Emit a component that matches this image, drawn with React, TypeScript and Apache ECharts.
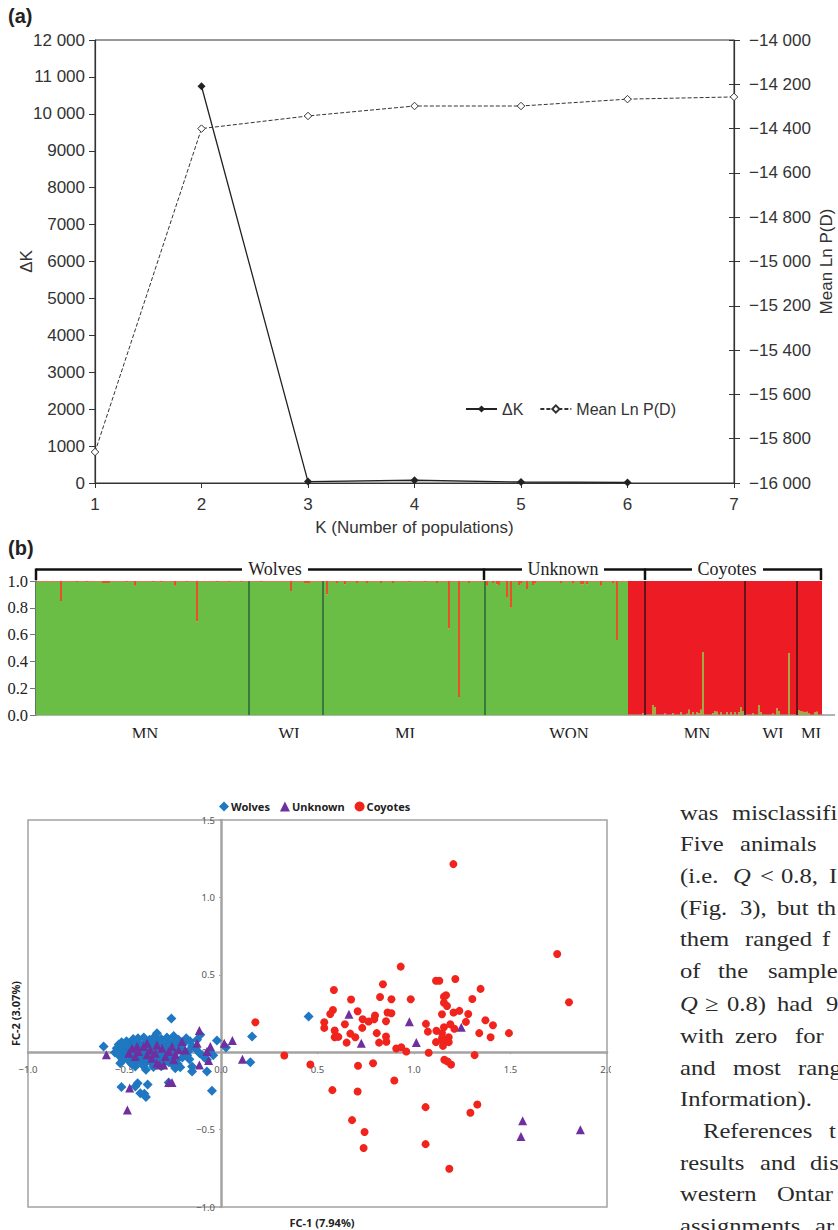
import React, { useEffect, useRef } from "react";
import * as echarts from "echarts";

// ---------- Panel (a) ----------
const kValues = [1, 2, 3, 4, 5, 6, 7];
const deltaK: (number | null)[] = [null, 10746, 38, 75, 27, 15, null];
const meanLnPD = [-15860, -14400, -14343, -14298, -14298, -14267, -14257];

// ---------- Panel (b): share of the green cluster per individual ----------
const individualCount = 393;
const firstCoyoteIndex = 296;
const wolfLikeBaseline = 0.995;
const coyoteLikeBaseline = 0.004;
const greenDips: [number, number][] = [
  [12, 0.85], [33, 0.985], [34, 0.985], [35, 0.985], [36, 0.985], [49, 0.965], [69, 0.965], [80, 0.7],
  [20, 0.992], [25, 0.99], [45, 0.99], [58, 0.99], [62, 0.988], [75, 0.99], [90, 0.99], [96, 0.988], [102, 0.99],
  [112, 0.99], [127, 0.925], [134, 0.985], [135, 0.985], [136, 0.98], [145, 0.9], [150, 0.985], [154, 0.975],
  [160, 0.985], [165, 0.985], [172, 0.985], [178, 0.985], [186, 0.988], [194, 0.988], [200, 0.985],
  [206, 0.645], [211, 0.135], [216, 0.985], [225, 0.965], [228, 0.985], [230, 0.975], [231, 0.97], [235, 0.875],
  [237, 0.8], [241, 0.97], [242, 0.98], [245, 0.94], [248, 0.97], [249, 0.98], [262, 0.985], [268, 0.98],
  [272, 0.975], [273, 0.975], [275, 0.975], [282, 0.965], [288, 0.98], [290, 0.56],
];
const greenSpikes: [number, number][] = [
  [303, 0.015], [308, 0.075], [309, 0.06], [314, 0.012], [318, 0.015], [322, 0.02], [326, 0.02], [330, 0.02],
  [325, 0.01], [331, 0.015], [326, 0.04], [328, 0.02], [333, 0.47], [332, 0.04],
  [338, 0.015], [339, 0.028], [340, 0.025], [342, 0.018], [345, 0.02], [347, 0.018], [349, 0.022], [351, 0.02],
  [352, 0.06], [353, 0.03], [358, 0.015], [361, 0.075], [362, 0.02], [368, 0.012], [370, 0.05], [371, 0.03],
  [376, 0.46], [381, 0.035], [382, 0.03], [383, 0.025], [384, 0.02], [385, 0.025], [386, 0.012],
  [390, 0.025], [389, 0.02],
];
const populationTicks: [number, string][] = [
  [54, "MN"], [126, "WI"], [184, "MI"], [266, "WON"], [330, "MN"], [368, "WI"], [387, "MI"],
];
const populationBreaks: [number, string][] = [
  [106, "#2f6a3c"], [143, "#2f6a3c"], [224, "#2f6a3c"], [304, "#441416"], [354, "#441416"], [380, "#441416"],
];

// ---------- Panel (c) ----------
const wolves: [number, number][] = [
  [-0.257, 0.217], [-0.608, 0.037], [0.161, 0.101], [0.152, -0.065], [-0.021, 0.075], [0.026, 0.03], [0.454, 0.23],
  [-0.047, -0.249], [-0.073, -0.125], [-0.516, -0.224], [-0.444, -0.222], [-0.432, -0.2], [-0.38, -0.209],
  [-0.418, -0.265], [-0.397, -0.269], [-0.389, -0.29], [-0.271, -0.196], [-0.15, -0.125], [-0.15, -0.092],
  [-0.111, -0.006], [-0.164, -0.045], [-0.073, -0.049], [-0.124, 0.08], [-0.107, 0.112], [-0.522, -0.071],
  [-0.389, -0.114], [-0.444, -0.092], [-0.237, -0.103], [-0.211, -0.097], [-0.332, 0.123],
  [-0.53, 0.05], [-0.515, 0.065], [-0.49, 0.07], [-0.455, 0.085], [-0.43, 0.09], [-0.4, 0.095], [-0.37, 0.08],
  [-0.345, 0.1], [-0.31, 0.085], [-0.28, 0.095], [-0.245, 0.105], [-0.22, 0.08], [-0.18, 0.09], [-0.16, 0.07],
  [-0.54, 0.025], [-0.51, 0.035], [-0.48, 0.05], [-0.45, 0.06], [-0.42, 0.055], [-0.39, 0.06], [-0.35, 0.055],
  [-0.32, 0.06], [-0.29, 0.05], [-0.26, 0.06], [-0.23, 0.05], [-0.195, 0.055], [-0.15, 0.04],
  [-0.55, -0.002], [-0.52, 0.005], [-0.495, 0.012], [-0.46, 0.0], [-0.43, 0.015], [-0.4, 0.005], [-0.36, 0.01],
  [-0.33, 0.02], [-0.3, 0.008], [-0.265, 0.018], [-0.235, 0.005], [-0.2, 0.012], [-0.17, 0.005], [-0.13, 0.02],
  [-0.53, -0.02], [-0.5, -0.03], [-0.47, -0.025], [-0.44, -0.04], [-0.41, -0.03], [-0.38, -0.045], [-0.35, -0.03],
  [-0.32, -0.05], [-0.29, -0.04], [-0.26, -0.03], [-0.23, -0.05], [-0.2, -0.035], [-0.175, -0.02],
  [-0.51, -0.05], [-0.475, -0.06], [-0.445, -0.065], [-0.36, -0.07], [-0.335, -0.08], [-0.3, -0.075], [-0.27, -0.065],
  [-0.25, -0.08], [-0.225, -0.075], [-0.42, -0.06], [-0.39, -0.065], [-0.09, -0.03], [-0.06, 0.01], [-0.04, -0.02],
  [-0.5, 0.045], [-0.47, 0.03], [-0.44, 0.075], [-0.41, 0.04], [-0.375, 0.035], [-0.34, 0.075], [-0.3, 0.07], [-0.27, 0.035],
  [-0.24, 0.075], [-0.21, 0.03], [-0.48, -0.01], [-0.445, -0.015], [-0.38, -0.015], [-0.34, -0.01], [-0.28, -0.015],
  [-0.245, -0.02], [-0.315, -0.02], [-0.4, -0.09], [-0.35, -0.095], [-0.31, -0.09], [-0.46, -0.08],
];
const unknown: [number, number][] = [
  [0.663, 0.245], [0.976, 0.196], [1.245, 0.161], [0.727, 0.058], [1.012, 0.062], [1.563, -0.443], [1.554, -0.544],
  [1.862, -0.501], [-0.594, -0.017], [-0.473, -0.232], [-0.485, -0.374], [-0.271, -0.196], [-0.254, -0.196],
  [-0.112, 0.14], [-0.124, 0.058], [0.017, 0.058], [0.059, 0.075], [0.111, -0.045], [-0.112, -0.082], [-0.064, -0.054],
  [-0.055, 0.037], [-0.073, 0.004], [-0.478, -0.006], [-0.461, 0.026], [-0.444, -0.028], [-0.427, 0.004],
  [-0.401, 0.037], [-0.383, -0.017], [-0.366, 0.015], [-0.358, -0.039], [-0.34, -0.006], [-0.332, -0.071],
  [-0.318, -0.082], [-0.297, -0.082], [-0.306, 0.026], [-0.288, -0.028], [-0.271, 0.004], [-0.254, 0.037],
  [-0.237, -0.017], [-0.219, 0.015], [-0.202, 0.069], [-0.185, 0.015], [-0.245, -0.049], [-0.383, 0.058],
  [-0.435, 0.037], [-0.332, 0.047],
];
const coyotes: [number, number][] = [
  [1.204, 1.215], [1.742, 0.634], [1.803, 0.323], [0.931, 0.553], [0.839, 0.439], [0.585, 0.402], [1.114, 0.462],
  [1.131, 0.462], [1.214, 0.473], [1.345, 0.409], [0.674, 0.34], [0.824, 0.357], [0.883, 0.342], [0.983, 0.342],
  [1.155, 0.359], [1.166, 0.368], [1.155, 0.32], [1.171, 0.299], [1.302, 0.344], [0.58, 0.273], [0.566, 0.247],
  [0.708, 0.265], [0.798, 0.237], [0.734, 0.213], [0.765, 0.198], [0.794, 0.213], [0.855, 0.2], [0.863, 0.256],
  [0.883, 0.252], [1.145, 0.245], [1.205, 0.256], [1.235, 0.267], [1.281, 0.247], [1.269, 0.196], [1.37, 0.206],
  [1.409, 0.174], [0.535, 0.194], [0.535, 0.157], [0.642, 0.181], [0.732, 0.157], [0.589, 0.14], [0.67, 0.12],
  [0.696, 0.097], [0.589, 0.097], [0.608, 0.099], [0.651, 0.062], [0.807, 0.123], [0.819, 0.062], [0.855, 0.101],
  [0.857, 0.067], [1.062, 0.183], [1.072, 0.133], [1.116, 0.138], [1.155, 0.161], [1.188, 0.181], [1.209, 0.151],
  [1.145, 0.123], [1.145, 0.09], [1.18, 0.097], [1.114, 0.065], [1.15, 0.069], [1.18, 0.065], [1.15, 0.041],
  [1.338, 0.123], [1.397, 0.097], [1.492, 0.123], [0.908, 0.024], [0.934, 0.032], [0.96, 0.004], [1.076, -0.004],
  [1.314, -0.019], [1.157, -0.049], [1.174, -0.06], [1.192, -0.08], [0.463, -0.08], [0.71, -0.088], [0.788, -0.071],
  [0.898, -0.183], [0.577, -0.245], [0.708, -0.254], [1.06, -0.355], [1.328, -0.338], [1.292, -0.391], [0.679, -0.439],
  [0.744, -0.516], [0.739, -0.619], [1.06, -0.594], [1.183, -0.753], [0.178, 0.194], [0.328, -0.021],
];

// ---------- Body text beside panel (c) ----------
const bodyWords: [string, number, number, boolean?][] = [
  ["was", 680, 0], ["misclassifi", 732, 0],
  ["Five", 680, 1], ["animals", 740, 1],
  ["(i.e.", 680, 2], ["Q", 733, 2, true], ["<", 760, 2], ["0.8,", 781, 2], ["I", 829, 2],
  ["(Fig.", 680, 3], ["3),", 740, 3], ["but", 777, 3], ["th", 817, 3],
  ["them", 680, 4], ["ranged", 745, 4], ["f", 822, 4],
  ["of", 680, 5], ["the", 718, 5], ["sample", 768, 5],
  ["Q", 680, 6, true], ["\u2265", 705, 6], ["0.8)", 727, 6], ["had", 777, 6], ["9", 826, 6],
  ["with", 680, 7], ["zero", 735, 7], ["for", 795, 7],
  ["and", 680, 8], ["most", 733, 8], ["rang", 798, 8],
  ["Information).", 680, 9],
  ["References", 703, 10], ["t", 829, 10],
  ["results", 680, 11], ["and", 760, 11], ["dis", 810, 11],
  ["western", 680, 12], ["Ontar", 777, 12],
  ["assignments", 680, 13], ["ar", 815, 13],
];
const bodyLineY = [812, 843, 875, 907, 938, 970, 1003, 1035, 1067, 1098, 1130, 1162, 1193, 1225];

const bracketSegments: [number, number][] = [[36, 242], [308, 484], [484, 522], [604, 645], [645, 692], [763, 822]];
const bracketDrops = [36, 484, 645, 821];
const bracketLabels: [string, number][] = [["Wolves", 275], ["Unknown", 563], ["Coyotes", 727]];

const SANS = '"Liberation Sans", Arial, sans-serif';
const SERIF = '"Liberation Serif", "Times New Roman", serif';
const NOTO = '"Noto Sans", sans-serif';

const groupThousands = (v: number) => {
  const a = Math.abs(v);
  const s = a >= 10000 ? `${Math.floor(a / 1000)} ${String(a % 1000).padStart(3, "0")}` : String(a);
  return v < 0 ? `\u2212${s}` : s;
};
const groupAll = (v: number) => {
  const a = Math.abs(v);
  return `\u2212${Math.floor(a / 1000)} ${String(a % 1000).padStart(3, "0")}`;
};
const fcLabel = (v: number) => (v < 0 ? `\u2212${Math.abs(v).toFixed(1)}` : v.toFixed(1));

export default function App() {
  const ref = useRef<HTMLDivElement>(null);
  useEffect(() => {
    document.body.style.margin = "0";
    document.body.style.overflow = "hidden";
    const chart = echarts.init(ref.current!, undefined, { renderer: "svg" });

    const green: number[] = [];
    for (let i = 0; i < individualCount; i++) green.push(i < firstCoyoteIndex ? wolfLikeBaseline : coyoteLikeBaseline);
    greenDips.forEach(([i, v]) => (green[i] = v));
    greenSpikes.forEach(([i, v]) => (green[i] = Math.max(green[i], v)));
    const red = green.map((v) => +(1 - v).toFixed(3));
    const categories = green.map((_, i) => String(i + 1));
    const tickMap = new Map(populationTicks);

    const graphic: any[] = [
      { type: "text", x: 8, y: 16, z: 50, style: { text: "(a)", font: `bold 20px ${SANS}`, fill: "#222", textVerticalAlign: "middle" } },
      { type: "text", x: 8, y: 548, z: 50, style: { text: "(b)", font: `bold 20px ${SANS}`, fill: "#222", textVerticalAlign: "middle" } },
      { type: "line", z: 50, shape: { x1: 822, y1: 715, x2: 835, y2: 715 }, style: { stroke: "#999", lineWidth: 1.5 } },
      { type: "rect", z: 60, shape: { x: 0, y: 738, width: 838, height: 30 }, style: { fill: "#fff" } },
      { type: "rect", z: 60, shape: { x: 611, y: 1060, width: 30, height: 22 }, style: { fill: "#fff" } },
    ];
    bracketSegments.forEach(([a, b]) =>
      graphic.push({ type: "line", z: 50, shape: { x1: a, y1: 569.5, x2: b, y2: 569.5 }, style: { stroke: "#111", lineWidth: 2.5 } })
    );
    bracketDrops.forEach((x) =>
      graphic.push({ type: "line", z: 50, shape: { x1: x, y1: 568.5, x2: x, y2: 580 }, style: { stroke: "#111", lineWidth: 2.5 } })
    );
    bracketLabels.forEach(([t, x]) =>
      graphic.push({ type: "text", x, y: 569, z: 50, style: { text: t, font: `18px ${SERIF}`, fill: "#222", textAlign: "center", textVerticalAlign: "middle" } })
    );
    bodyWords.forEach(([t, x, line, italic]) =>
      graphic.push({
        type: "text", x, y: bodyLineY[line], z: 50, scaleX: 1.12,
        style: { text: t, font: `${italic ? "italic " : ""}22px ${SERIF}`, fill: "#2a2a2a", textVerticalAlign: "middle" },
      })
    );

    const axisA = { color: "#333", fontFamily: SANS, fontSize: 17 };
    const fcAxis = (extra: any) => ({
      type: "value",
      axisLine: { show: true, onZero: false, lineStyle: { color: "#a3a3a3", width: 2.5 } },
      axisTick: { show: true, length: 2, lineStyle: { color: "#a3a3a3" } },
      splitLine: { show: false },
      nameLocation: "middle",
      nameMoveOverlap: false,
      nameTextStyle: { color: "#222", fontFamily: NOTO, fontWeight: "bold", fontSize: 11 },
      ...extra,
    });

    chart.setOption({
      animation: false,
      graphic,
      legend: [
        {
          data: ["\u0394K", "Mean Ln P(D)"], left: 465, top: 401, padding: 0, itemWidth: 31, itemHeight: 9, itemGap: 16,
          textStyle: { ...axisA, fontSize: 16 },
        },
        {
          data: ["Wolves", "Unknown", "Coyotes"], left: 219, top: 801, padding: 0, itemWidth: 10, itemHeight: 10, itemGap: 10,
          textStyle: { color: "#222", fontFamily: NOTO, fontWeight: "bold", fontSize: 11, padding: [0, 0, 0, -3] },
        },
      ],
      grid: [
        { left: 95, right: 104, top: 40, bottom: 747, show: true, borderColor: "#333", borderWidth: 1, outerBoundsMode: "none" },
        { left: 36, right: 16, top: 581, bottom: 515, outerBoundsMode: "none" },
        { left: 28, right: 231, top: 820, bottom: 23, show: true, borderColor: "#a3a3a3", borderWidth: 1.5, outerBoundsMode: "none" },
      ],
      xAxis: [
        {
          gridIndex: 0, type: "value", min: 1, max: 7, interval: 1,
          axisLine: { show: true, onZero: false, lineStyle: { color: "#333", width: 1.2 } },
          axisTick: { show: true, length: 5, lineStyle: { color: "#333" } },
          splitLine: { show: false },
          axisLabel: { ...axisA, margin: 13 },
          name: "K (Number of populations)", nameLocation: "middle", nameGap: 36, nameTextStyle: { ...axisA },
        },
        {
          gridIndex: 1, type: "category", data: categories, boundaryGap: true,
          axisLine: { lineStyle: { color: "#999", width: 1.5 } },
          axisTick: { length: 5, alignWithLabel: true, interval: (i: number) => tickMap.has(i), lineStyle: { color: "#999" } },
          axisLabel: {
            interval: (i: number) => tickMap.has(i),
            formatter: (_: string, i: number) => tickMap.get(i) ?? "",
            color: "#222", fontFamily: SERIF, fontSize: 16.5, margin: 10,
          },
        },
        fcAxis({
          gridIndex: 2, min: -1, max: 2, interval: 0.5, position: "bottom", offset: -154.8,
          name: "FC-1 (7.94%)", nameGap: 165, nameTextStyle: { color: "#222", fontFamily: NOTO, fontWeight: "bold", fontSize: 11, padding: [0, 0, 0, 9] },
          axisLabel: { color: "#555", fontFamily: NOTO, fontSize: 9.5, formatter: fcLabel, margin: 12 },
        }),
      ],
      yAxis: [
        {
          gridIndex: 0, type: "value", min: 0, max: 12000, interval: 1000, position: "left",
          axisLine: { show: true, lineStyle: { color: "#333", width: 1.2 } },
          axisTick: { show: true, length: 6, lineStyle: { color: "#333" } },
          splitLine: { show: false },
          axisLabel: { ...axisA, margin: 10, formatter: groupThousands },
          name: "\u0394K", nameLocation: "middle", nameGap: 60, nameMoveOverlap: false, nameTextStyle: { ...axisA },
        },
        {
          gridIndex: 0, type: "value", min: -16000, max: -14000, interval: 200, position: "right",
          axisLine: { show: true, lineStyle: { color: "#333", width: 1.2 } },
          axisTick: { show: true, length: 6, lineStyle: { color: "#333" } },
          splitLine: { show: false },
          axisLabel: { ...axisA, margin: 15, formatter: groupAll },
          name: "Mean Ln P(D)", nameLocation: "middle", nameRotate: 90, nameGap: 84, nameMoveOverlap: false,
          nameTextStyle: { ...axisA },
        },
        {
          gridIndex: 0, type: "value", min: -16000, max: -14000, interval: 200, position: "right",
          axisLine: { show: false },
          axisTick: { show: true, inside: true, length: 5, lineStyle: { color: "#333" } },
          splitLine: { show: false }, axisLabel: { show: false },
        },
        {
          gridIndex: 1, type: "value", min: 0, max: 1, interval: 0.2,
          axisLine: { show: true, lineStyle: { color: "#24492c", width: 1.5 } },
          axisTick: { show: true, length: 6, lineStyle: { color: "#777" } },
          splitLine: { show: false },
          axisLabel: { color: "#222", fontFamily: SERIF, fontSize: 16.5, margin: 8, formatter: (v: number) => v.toFixed(1) },
        },
        fcAxis({
          gridIndex: 2, min: -1, max: 1.5, interval: 0.5, position: "left", offset: -193,
          name: "FC-2 (3.07%)", nameGap: 200,
          axisLabel: { color: "#555", fontFamily: NOTO, fontSize: 9.5, formatter: fcLabel, margin: 6 },
        }),
      ],
      series: [
        {
          name: "\u0394K", type: "line", xAxisIndex: 0, yAxisIndex: 0, connectNulls: false,
          data: kValues.map((k, i) => [k, deltaK[i]]),
          symbol: "diamond", symbolSize: 8,
          lineStyle: { color: "#222", width: 1.3 }, itemStyle: { color: "#222" },
        },
        {
          name: "Mean Ln P(D)", type: "line", xAxisIndex: 0, yAxisIndex: 1,
          data: kValues.map((k, i) => [k, meanLnPD[i]]),
          symbol: "diamond", symbolSize: 7.5,
          lineStyle: { color: "#333", width: 1, type: [4, 2] },
          itemStyle: { color: "#fff", borderColor: "#333", borderWidth: 1 },
        },
        {
          name: "Green cluster", type: "bar", stack: "q", xAxisIndex: 1, yAxisIndex: 3, barWidth: 2,
          data: green.map((v, i) => ({ value: v, itemStyle: { color: i >= firstCoyoteIndex ? "#a4a743" : "#6abd45" } })),
          markLine: {
            silent: true, symbol: "none", label: { show: false }, animation: false,
            data: populationBreaks.map(([i, c]) => ({ xAxis: i, lineStyle: { color: c, width: 1.6, type: "solid" } })),
          },
        },
        {
          name: "Red cluster", type: "bar", stack: "q", xAxisIndex: 1, yAxisIndex: 3, barWidth: 2,
          data: red.map((v, i) => ({ value: v, itemStyle: { color: i >= firstCoyoteIndex ? "#ed1c24" : "#e8502a" } })),
        },
        { name: "Wolves", type: "scatter", xAxisIndex: 2, yAxisIndex: 4, symbol: "diamond", symbolSize: 10, data: wolves, itemStyle: { color: "#1f78c1", opacity: 1 } },
        { name: "Coyotes", type: "scatter", xAxisIndex: 2, yAxisIndex: 4, symbol: "circle", symbolSize: 8, data: coyotes, itemStyle: { color: "#f0241c", opacity: 1 } },
        { name: "Unknown", type: "scatter", xAxisIndex: 2, yAxisIndex: 4, symbol: "triangle", symbolSize: 9, data: unknown, itemStyle: { color: "#6f2f9f", opacity: 1 } },
      ],
    });
    return () => chart.dispose();
  }, []);
  return <div ref={ref} style={{ width: 838, height: 1230 }} />;
}
